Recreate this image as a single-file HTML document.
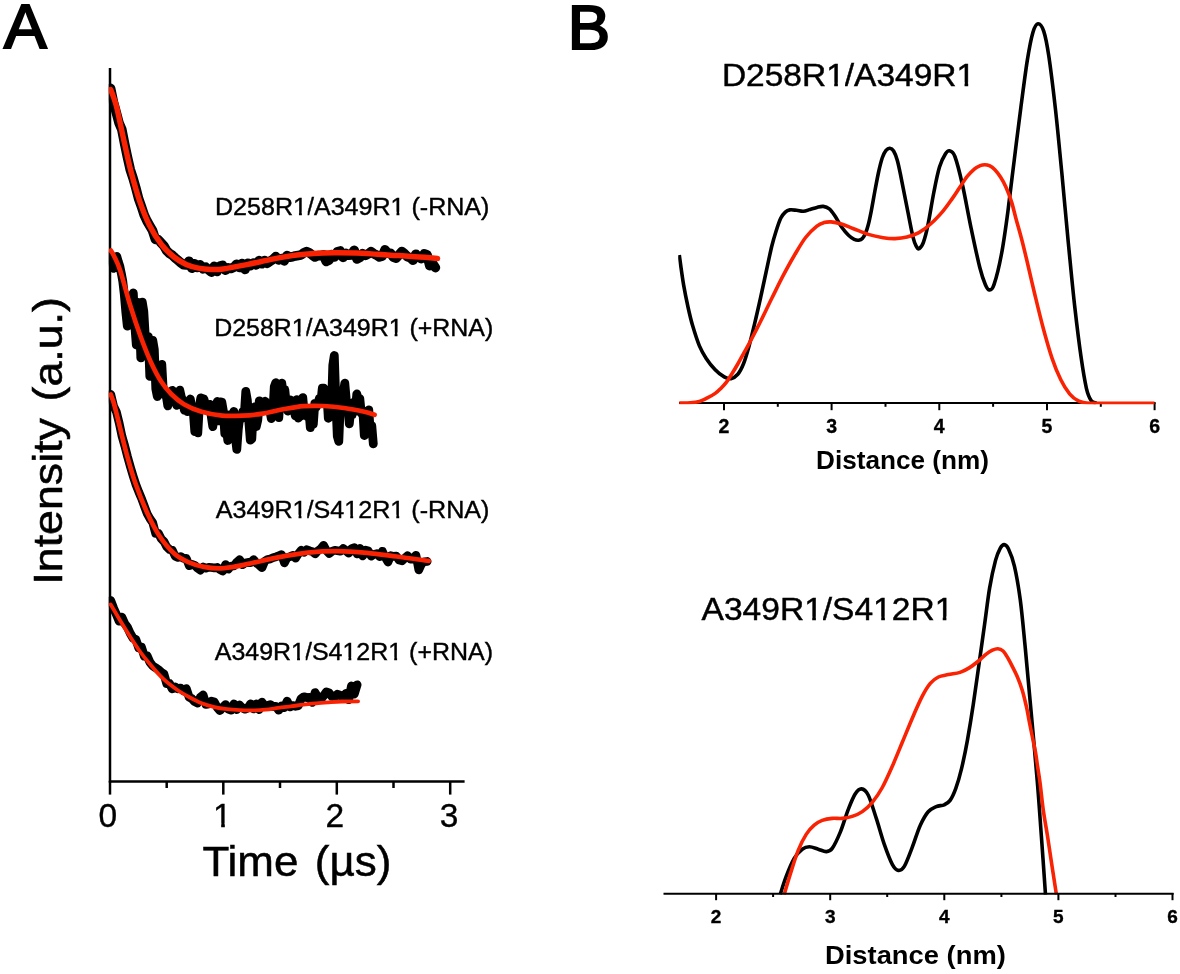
<!DOCTYPE html>
<html><head><meta charset="utf-8"><title>Figure</title>
<style>
html,body{margin:0;padding:0;background:#fff;}
body{width:1180px;height:974px;overflow:hidden;font-family:"Liberation Sans",sans-serif;}
svg{display:block;will-change:transform;}
</style></head><body>
<svg width="1180" height="974" viewBox="0 0 1180 974">
<rect width="1180" height="974" fill="#fff"/>
<g stroke="#000" stroke-width="2.5" fill="none" stroke-linecap="butt">
<path d="M110 68V782.5"/>
<path d="M108.9 781.4H464.6"/>
<path d="M110 781V794.6"/>
<path d="M223.3 781V794.6"/>
<path d="M336.8 781V794.6"/>
<path d="M450.2 781V794.6"/>
<path d="M166.7 781V788"/>
<path d="M280 781V788"/>
<path d="M393.5 781V788"/>
</g>
<clipPath id="ca"><rect x="108.8" y="60" width="400" height="721"/></clipPath>
<g clip-path="url(#ca)">
<path d="M110.6 88.4L113.4 102L116.2 112.2L119 122.9L121.8 129.4L124.6 143.6L127.4 157L130.2 169.4L133 178L135.8 187.8L138.6 198.6L141.4 206.5L144.2 214.9L147 221L149.8 225.9L152.6 230.7L155.4 239.4L158.2 239.6L161 242.7L163.8 245.7L166.6 250.6L169.4 253.4L172.2 255.1L175 257.8L177.8 260.2L180.6 262.6L183.4 264.7L186.2 264.9L189 261.2L191.8 268.2L194.6 263.8L197.4 267.5L200.2 264.9L203 268.8L205.8 267.2L208.6 269.8L211.4 272.2L214.2 266.4L217 271.5L219.8 266.1L222.6 265.3L225.4 270.2L228.2 267.9L231 268.5L233.8 267.4L236.6 264.2L239.4 267.4L242.2 263.6L245 269.4L247.8 263.2L250.6 265.5L253.4 263.2L256.2 264.9L259 260.6L261.8 263.8L264.6 260.5L267.4 263.2L270.2 261.1L273 259.4L275.8 256.6L278.6 259.8L281.4 258.5L284.2 260.9L287 255.5L289.8 257.3L292.6 256.8L295.4 255.9L298.2 255.4L301 255L303.8 252.9L306.6 251.6L309.4 252.9L312.2 255L315 257L317.8 255.6L320.6 255.6L323.4 254.8L326.2 261.5L329 260.2L331.8 254.6L334.6 257L337.4 251.9L340.2 251L343 257.4L345.8 253.4L348.6 255.2L351.4 255L354.2 250.3L357 258.9L359.8 257.5L362.6 253.8L365.4 255.3L368.2 254L371 251.7L373.8 253.7L376.6 255.1L379.4 257L382.2 256.2L385 249.8L387.8 253.1L390.6 253.3L393.4 257.2L396.2 258.1L399 254.9L401.8 251.5L404.6 253.8L407.4 256.7L410.2 257.6L413 260.2L415.8 254.2L418.6 256.8L421.4 258.6L424.2 253.9L427 254.8L429.8 265.7L432.6 263.5L435.4 267.6" fill="none" stroke="#000" stroke-width="9.6" stroke-linejoin="round" stroke-linecap="round"/>
<path d="M110.6 89.5C111.1 90.8 112.4 93.7 113.5 97C114.6 100.3 115.4 101.5 117.2 109.3C119 117.1 122.3 133.4 124.6 143.7C126.9 153.9 128.3 161.4 130.8 170.8C133.3 180.2 136.3 191.4 139.4 200.4C142.5 209.4 145.6 217.6 149.3 225C153 232.4 157.5 239.4 161.6 244.7C165.7 250 169.8 253.7 173.9 257C178 260.3 182.1 262.5 186.2 264.4C190.3 266.2 194.4 267.3 198.5 268.1C202.6 268.9 206.7 269.3 210.8 269.4C214.9 269.5 217 269.7 223.2 268.9C229.4 268.1 239.8 266 247.8 264.4C255.8 262.8 263.8 260.9 271.2 259.4C278.6 257.9 285.3 256.6 292.4 255.6C299.5 254.6 306.6 254 313.6 253.5C320.7 253 327.6 252.8 334.7 252.7C341.8 252.6 348.8 252.8 355.9 253.1C363 253.3 370 253.8 377.1 254.2C384.2 254.6 391.2 255.2 398.3 255.6C405.4 256.1 413 256.4 419.5 256.9C426 257.4 434.5 258.1 437.5 258.4" fill="none" stroke="#f92203" stroke-width="5.5" stroke-linecap="round" stroke-linejoin="round"/>
<path d="M110.8 255.5L112.3 262L113.8 268.4L115.3 258L116.8 256.4L118.3 261.7L119.8 266.1L121.3 273.3L122.8 281.4L124.3 294.5L125.8 311.8L127.3 326.1L128.8 324.8L130.3 306.3L131.8 295.9L133.3 293L134.8 325.5L136.3 345L137.8 302.5L139.3 311.6L140.8 357.8L142.3 302.1L143.8 311.5L145.3 337.3L146.8 344L148.3 336.5L149.8 376.3L151.3 370.5L152.8 340.4L154.3 349.5L155.8 388.8L157.3 396.5L158.8 381.6L160.3 372.5L161.8 364.3L163.3 391.4L164.8 395.2L166.3 396.2L167.8 405.9L169.3 398.4L170.8 395.7L172.3 390.3L173.8 399.3L175.3 400.3L176.8 405.4L178.3 401.7L179.8 390.2L181.3 397L182.8 400.4L184.3 410.1L185.8 403.9L187.3 411.7L188.8 408.3L190.3 399L191.8 408L193.3 412L194.8 431.7L196.3 419.6L197.8 432.9L199.3 406.6L200.8 397.9L202.3 407.7L203.8 398.8L205.3 403.8L206.8 406.3L208.3 411.1L209.8 404.4L211.3 416.5L212.8 426.6L214.3 416.4L215.8 407.8L217.3 401.5L218.8 420.9L220.3 401.8L221.8 402L223.3 410.8L224.8 433.8L226.3 427.6L227.8 440.5L229.3 414.9L230.8 416.9L232.3 418.5L233.8 411.5L235.3 436.9L236.8 449.4L238.3 429L239.8 416.4L241.3 418.8L242.8 411.5L244.3 414.7L245.8 391.4L247.3 399.9L248.8 421.1L250.3 440.2L251.8 438.9L253.3 410.5L254.8 406.7L256.3 426.5L257.8 419.9L259.3 400.8L260.8 411.2L262.3 407.2L263.8 408.9L265.3 401.2L266.8 409.7L268.3 408.7L269.8 410.3L271.3 418.6L272.8 412.7L274.3 386.6L275.8 382.7L277.3 390.6L278.8 417.6L280.3 393.9L281.8 383.2L283.3 394.8L284.8 389.6L286.3 404.3L287.8 411.1L289.3 407.3L290.8 400L292.3 404.4L293.8 408.2L295.3 415.9L296.8 399.6L298.3 418.1L299.8 416.4L301.3 415.8L302.8 397.7L304.3 414.5L305.8 414.6L307.3 416.6L308.8 408.8L310.3 427.7L311.8 421.3L313.3 424.4L314.8 403.3L316.3 407.1L317.8 403.4L319.3 398.5L320.8 402.7L322.3 388.1L323.8 388.2L325.3 393.6L326.8 392.4L328.3 418.3L329.8 416.9L331.3 412.8L332.8 365.2L334.3 355.5L335.8 400.5L337.3 436.3L338.8 441.4L340.3 404.4L341.8 405.3L343.3 392.9L344.8 383.2L346.3 400.3L347.8 405.3L349.3 423.8L350.8 409.4L352.3 414.7L353.8 402.1L355.3 411L356.8 394L358.3 399.3L359.8 398.4L361.3 413.4L362.8 410.4L364.3 435.5L365.8 421.2L367.3 424.5L368.8 410L370.3 432.1L371.8 425.9L373.3 443.8" fill="none" stroke="#000" stroke-width="8.8" stroke-linejoin="round" stroke-linecap="round"/>
<path d="M110.8 250.5C111.3 251.4 112.4 252.6 114 256C115.6 259.4 117.5 262.3 120.3 270.7C123 279.1 127.1 295.3 130.5 306.3C133.9 317.3 137.3 327.5 140.7 336.8C144.1 346.1 147.5 354.8 150.9 362.2C154.3 369.6 157.6 376 161 381.3C164.4 386.6 167.4 390.2 171.2 394C175 397.8 178.8 401.2 183.9 404.2C189 407.2 195.3 409.9 201.7 411.8C208 413.7 215.2 415 222 415.6C228.8 416.2 235.6 415.9 242.4 415.6C249.2 415.3 255.9 414.7 262.7 413.6C269.5 412.6 276.3 410.5 283.1 409.3C289.9 408.1 296.6 406.8 303.4 406.2C310.2 405.6 316.9 405.7 323.7 406C330.5 406.3 337.3 407 344.1 408C350.9 409 359.3 410.7 364.4 411.8C369.5 412.9 372.9 414.3 374.6 414.8" fill="none" stroke="#f92203" stroke-width="4.7" stroke-linecap="round" stroke-linejoin="round"/>
<path d="M110.8 394.3L113.6 406L116.4 411.8L119.2 423.1L122 436.3L124.8 446L127.6 456.9L130.4 466.8L133.2 476.2L136 484.9L138.8 492L141.6 498.6L144.4 506.3L147.2 513.7L150 518.8L152.8 522.8L155.6 533.5L158.4 533.3L161.2 538.8L164 541.6L166.8 546.9L169.6 549.5L172.4 550.2L175.2 556.3L178 557.5L180.8 556.5L183.6 558.5L186.4 558.4L189.2 565.8L192 564.4L194.8 565.3L197.6 568.3L200.4 570.2L203.2 567L206 568.2L208.8 567.2L211.6 567.5L214.4 568L217.2 567.4L220 569.7L222.8 571.1L225.6 564.5L228.4 569.2L231.2 566.1L234 566L236.8 562.1L239.6 559.6L242.4 564.8L245.2 563L248 562.4L250.8 562.7L253.6 559.6L256.4 563L259.2 565.2L262 567.7L264.8 561.1L267.6 559.4L270.4 558.9L273.2 557.6L276 556.8L278.8 555.7L281.6 554.6L284.4 562.9L287.2 557.6L290 556.7L292.8 555.3L295.6 558.1L298.4 553.7L301.2 550.3L304 552.4L306.8 549.6L309.6 550.8L312.4 551.6L315.2 553.8L318 550.7L320.8 548.8L323.6 545.3L326.4 550.5L329.2 553.5L332 551.3L334.8 550.3L337.6 550.8L340.4 551.3L343.2 548.5L346 550.7L348.8 553.2L351.6 548.6L354.4 547.7L357.2 554L360 548.4L362.8 556L365.6 550.2L368.4 551L371.2 556.2L374 554.3L376.8 553.6L379.6 556.7L382.4 551.2L385.2 557.4L388 562.1L390.8 555.7L393.6 556.4L396.4 556.1L399.2 560.2L402 560.9L404.8 558.2L407.6 555.6L410.4 559.2L413.2 558.9L416 555.2L418.8 570L421.6 563.7L424.4 561.8L427.2 561.4" fill="none" stroke="#000" stroke-width="8.6" stroke-linejoin="round" stroke-linecap="round"/>
<path d="M110.8 394.5C111.2 395.8 112.3 398 113.5 402C114.7 406 115.6 409.9 117.8 418.6C120 427.3 123.7 443.3 126.7 454.2C129.7 465.1 132.1 473.9 135.6 483.8C139.1 493.7 143.6 504.9 147.5 513.5C151.4 522.1 154.9 529 159.3 535.7C163.8 542.4 169.2 549 174.2 553.5C179.1 558 184.1 560.2 189 562.4C193.9 564.6 198.9 565.9 203.8 566.9C208.8 567.9 213.8 568.4 218.7 568.4C223.6 568.4 228.6 567.6 233.5 566.9C238.4 566.1 240.9 565.5 248.3 563.9C255.7 562.3 268.1 559.3 278 557.4C287.9 555.5 297.8 553.6 307.7 552.6C317.6 551.6 327.4 551.2 337.3 551.2C347.2 551.2 357.1 552 367 552.9C376.9 553.8 386.3 555.2 396.6 556.5C406.9 557.8 423.4 560.2 428.8 560.9" fill="none" stroke="#f92203" stroke-width="4.7" stroke-linecap="round" stroke-linejoin="round"/>
<path d="M110.7 600.5L113.5 607.9L116.3 614.3L119.1 621.1L121.9 617.2L124.7 623.5L127.5 627.4L130.3 633.5L133.1 638.3L135.9 639.6L138.7 647.8L141.5 647.2L144.3 656.1L147.1 655.7L149.9 662.3L152.7 665.9L155.5 667.7L158.3 669.6L161.1 672.1L163.9 673.9L166.7 683.6L169.5 683.4L172.3 688.9L175.1 686.9L177.9 688.8L180.7 688.1L183.5 690.7L186.3 688.7L189.1 697.2L191.9 698.7L194.7 701.6L197.5 702.9L200.3 697.4L203.1 695L205.9 704.3L208.7 703.8L211.5 701.2L214.3 702L217.1 707.3L219.9 710.5L222.7 707.3L225.5 704.6L228.3 709.1L231.1 710.1L233.9 704L236.7 709.5L239.5 705L242.3 707.8L245.1 709.2L247.9 708L250.7 703.8L253.5 708.9L256.3 703.9L259.1 709.5L261.9 702.2L264.7 705.8L267.5 705.6L270.3 704.6L273.1 706.6L275.9 706.3L278.7 710.2L281.5 706.1L284.3 707.6L287.1 701.2L289.9 706.9L292.7 705.6L295.5 706.3L298.3 705.7L301.1 698.6L303.9 696.8L306.7 697.6L309.5 697.4L312.3 702.4L315.1 692.6L317.9 697.5L320.7 699.6L323.5 695.9L326.3 691.9L329.1 692.9L331.9 696.5L334.7 696.8L337.5 694.2L340.3 695.4L343.1 698.2L345.9 693.4L348.7 699.7L351.5 686L354.3 694L357.1 684.8" fill="none" stroke="#000" stroke-width="8.8" stroke-linejoin="round" stroke-linecap="round"/>
<path d="M110.7 604.5C112.3 607.2 117 615.2 120.3 620.7C123.6 626.2 127.1 631.9 130.5 637.2C133.9 642.5 137.3 647.8 140.7 652.5C144.1 657.2 147.1 660.8 150.9 665.2C154.7 669.7 159.4 675.2 163.6 679.2C167.8 683.2 172.1 686.3 176.3 689.3C180.5 692.3 184.8 694.7 189 697C193.2 699.3 197.5 701.6 201.7 703.3C205.9 705 210.2 706.1 214.4 707.1C218.6 708.1 222.9 708.7 227.1 709.2C231.3 709.7 235.6 710 239.8 710.2C244.1 710.4 248.3 710.5 252.6 710.4C256.9 710.3 261.1 710.1 265.3 709.7C269.5 709.3 273.8 708.5 278 707.9C282.2 707.3 286.5 706.9 290.7 706.4C294.9 705.9 299.2 705.1 303.4 704.6C307.6 704.1 311.9 703.7 316.1 703.3C320.3 702.9 324.6 702.6 328.8 702.3C333 702 336.6 701.7 341.5 701.5C346.4 701.3 355.3 701.3 358.1 701.3" fill="none" stroke="#f92203" stroke-width="3.8" stroke-linecap="round" stroke-linejoin="round"/>
</g>
<text x="4" y="48.2" font-family="Liberation Sans, sans-serif" font-size="63.5" font-weight="normal" text-anchor="start" fill="#000" textLength="42.6" lengthAdjust="spacingAndGlyphs" stroke="#000" stroke-width="2.2" stroke-linejoin="miter">A</text>
<text x="567.8" y="49.2" font-family="Liberation Sans, sans-serif" font-size="63.5" font-weight="normal" text-anchor="start" fill="#000" stroke="#000" stroke-width="2.2" stroke-linejoin="miter">B</text>
<text x="215" y="214.8" font-family="Liberation Sans, sans-serif" font-size="24.2" font-weight="normal" text-anchor="start" fill="#000" textLength="274.4" lengthAdjust="spacingAndGlyphs" stroke="#000" stroke-width="0.4">D258R1/A349R1 (-RNA)</text>
<text x="214.2" y="335.6" font-family="Liberation Sans, sans-serif" font-size="24.2" font-weight="normal" text-anchor="start" fill="#000" textLength="279" lengthAdjust="spacingAndGlyphs" stroke="#000" stroke-width="0.4">D258R1/A349R1 (+RNA)</text>
<text x="215.8" y="517.8" font-family="Liberation Sans, sans-serif" font-size="24.2" font-weight="normal" text-anchor="start" fill="#000" textLength="273.6" lengthAdjust="spacingAndGlyphs" stroke="#000" stroke-width="0.4">A349R1/S412R1 (-RNA)</text>
<text x="214.8" y="660.4" font-family="Liberation Sans, sans-serif" font-size="24.2" font-weight="normal" text-anchor="start" fill="#000" textLength="278.2" lengthAdjust="spacingAndGlyphs" stroke="#000" stroke-width="0.4">A349R1/S412R1 (+RNA)</text>
<text x="107.8" y="826.9" font-family="Liberation Sans, sans-serif" font-size="33.5" font-weight="normal" text-anchor="middle" fill="#000" stroke="#000" stroke-width="0.35">0</text>
<text x="222.4" y="826.9" font-family="Liberation Sans, sans-serif" font-size="33.5" font-weight="normal" text-anchor="middle" fill="#000" stroke="#000" stroke-width="0.35">1</text>
<text x="334.9" y="826.9" font-family="Liberation Sans, sans-serif" font-size="33.5" font-weight="normal" text-anchor="middle" fill="#000" stroke="#000" stroke-width="0.35">2</text>
<text x="449" y="826.9" font-family="Liberation Sans, sans-serif" font-size="33.5" font-weight="normal" text-anchor="middle" fill="#000" stroke="#000" stroke-width="0.35">3</text>
<text x="202.4" y="875.8" font-family="Liberation Sans, sans-serif" font-size="41.6" font-weight="normal" text-anchor="start" fill="#000" textLength="189" lengthAdjust="spacingAndGlyphs" stroke="#000" stroke-width="0.5" word-spacing="4">Time (µs)</text>
<g transform="translate(61.7 584.6) rotate(-90)">
<text x="0" y="0" font-family="Liberation Sans, sans-serif" font-size="41.4" font-weight="normal" text-anchor="start" fill="#000" textLength="287.5" lengthAdjust="spacingAndGlyphs" stroke="#000" stroke-width="0.55" word-spacing="4">Intensity (a.u.)</text>
</g>
<g stroke="#000" stroke-width="2" fill="none">
<path d="M679 403.1H1155.5"/>
<path d="M724 402.5V410.2"/>
<path d="M831.6 402.5V410.2"/>
<path d="M939.3 402.5V410.2"/>
<path d="M1047 402.5V410.2"/>
<path d="M1154.6 402.5V410.2"/>
<path d="M777.8 402.5V406.8"/>
<path d="M885.5 402.5V406.8"/>
<path d="M993.1 402.5V406.8"/>
<path d="M1100.8 402.5V406.8"/>
</g>
<clipPath id="ct"><rect x="678.2" y="0" width="480" height="404.15"/></clipPath>
<g clip-path="url(#ct)">
<path d="M679.3 255C680 260 682.1 276.1 683.6 284.9C685.1 293.6 686.6 300.7 688.1 307.5C689.6 314.3 690.7 319.2 692.6 325.6C694.5 332 697.1 340.4 699.4 345.9C701.7 351.4 703.6 354.4 706.2 358.4C708.8 362.4 712.2 366.6 715.2 369.7C718.2 372.8 721.6 375.4 724.2 376.9C726.8 378.4 728.7 379.1 731 378.7C733.3 378.2 735.7 376.6 737.8 374.2C739.9 371.8 741.5 368.7 743.4 364C745.3 359.3 747.2 352.7 749.1 345.9C751 339.1 752.8 331.2 754.7 323.3C756.6 315.4 758.5 307 760.4 298.5C762.3 290 764.1 281.2 766 272.5C767.9 263.8 770 253.5 771.7 246.5C773.4 239.5 774.7 235.4 776.2 230.7C777.7 226 779.2 221.3 780.7 218.2C782.2 215.1 783.8 213.5 785.3 212.1C786.8 210.7 787.9 210.2 789.8 209.9C791.7 209.6 794.4 210.1 796.6 210.3C798.9 210.5 801 211.5 803.3 211.3C805.5 211.2 807.8 210.1 810.1 209.4C812.4 208.8 814.7 207.9 816.9 207.4C819.1 206.9 821.1 206.2 823.2 206.4C825.3 206.6 827.3 207.2 829.3 208.8C831.3 210.4 832.9 212.9 835 216C837.1 219.1 839.5 224.1 841.8 227.3C844 230.5 846.4 233.2 848.5 235.2C850.6 237.2 852.5 238.5 854.2 239.3C855.9 240.1 857.3 240.4 858.7 240.2C860.1 240 861.5 239.4 862.6 238.2C863.8 237 864.6 235.3 865.6 233C866.6 230.7 867.5 227.9 868.4 224.3C869.3 220.7 870.1 216.8 871.2 211.3C872.3 205.8 873.6 198 874.8 191.5C876 185 877.3 178.1 878.5 172.5C879.7 166.9 881 161.7 882.2 158C883.5 154.3 884.7 152 886 150.4C887.3 148.8 888.5 148.1 889.8 148.2C891.1 148.3 892.4 149 893.6 151C894.8 153 896 155.6 897.2 160C898.5 164.4 899.5 169.7 901.1 177.6C902.7 185.5 905 197.5 907 207.4C909 217.3 911.4 230.6 913 237.1C914.6 243.6 915.5 244.8 916.5 246.7C917.5 248.6 918.1 249.3 919.2 248.6C920.4 247.9 922 246.3 923.4 242.4C924.8 238.5 926.2 233.5 927.9 225.2C929.6 216.9 931.9 202.2 933.8 192.5C935.7 182.8 937.5 173.4 939.5 167C941.5 160.6 943.8 156.5 945.5 153.8C947.2 151.1 947.9 150.4 949.5 150.8C951.1 151.2 952.7 150.7 954.9 156.5C957.1 162.3 959.9 173.5 962.6 185.5C965.3 197.5 968.3 214.9 971.2 228.6C974.1 242.3 977.4 258.1 979.8 267.5C982.2 276.9 983.8 281 985.4 284.7C987 288.4 987.9 289.9 989.3 289.9C990.7 289.9 992 290.6 994 284.7C996 278.8 999.1 266.7 1001.4 254.5C1003.7 242.3 1005.8 227.2 1007.9 211.4C1010 195.6 1012.1 176.8 1014.3 159.6C1016.4 142.3 1018.6 124.4 1020.8 107.9C1023 91.4 1025.3 73 1027.3 60.4C1029.3 47.8 1031.1 38.5 1032.9 32.4C1034.7 26.3 1036.2 23.9 1038 23.7C1039.8 23.5 1041.9 25.7 1043.7 31.1C1045.5 36.5 1046.9 43.3 1048.8 56.1C1050.7 68.9 1053.1 88.5 1055.3 107.9C1057.5 127.3 1059.6 150.3 1061.8 172.6C1064 194.9 1066 219.3 1068.2 241.6C1070.4 263.9 1072.5 286.9 1074.7 306.3C1076.9 325.7 1079.2 344.4 1081.2 358.1C1083.2 371.8 1084.8 381.2 1086.4 388.3C1088.1 395.4 1089.4 397.9 1091.1 400.4C1092.8 402.9 1095.4 402.7 1096.3 403.2" fill="none" stroke="#000" stroke-width="3.6" stroke-linejoin="round"/>
<path d="M679.3 403C681.1 403 686.9 403.1 690.3 402.8C693.6 402.5 696.6 402.2 699.4 401.4C702.2 400.6 704.7 399.2 707.3 397.9C709.9 396.6 713 395 715.2 393.4C717.5 391.8 718.9 390.3 720.8 388.4C722.7 386.5 724.6 384.6 726.5 382.1C728.4 379.6 730.2 376.5 732.1 373.5C734 370.5 735.9 367.3 737.8 364C739.7 360.7 741.5 357.2 743.4 353.8C745.3 350.4 746.3 349 749.1 343.7C751.9 338.4 756.6 329.3 760.4 321.8C764.2 314.3 767.9 306.1 771.7 298.5C775.5 290.9 779.2 283.1 783 275.9C786.8 268.7 790.5 261.9 794.3 255.5C798.1 249.1 801.8 242.4 805.6 237.5C809.4 232.6 813.8 228.7 816.9 226.2C820 223.7 821.6 223.3 824 222.6C826.4 221.9 828.2 221.7 831.1 221.9C834 222.1 837.8 222.9 841.5 224C845.2 225.1 849 227 853.5 228.7C858 230.4 863.3 232.9 868.3 234.4C873.2 235.9 878.7 237 883.2 237.7C887.7 238.4 891.1 238.7 895.1 238.6C899.1 238.5 903 238.1 907 237.1C911 236.1 914.9 234.9 918.9 232.7C922.9 230.5 926.8 227.5 930.8 223.8C934.8 220.2 939.6 215 943.2 210.8C946.8 206.6 949.6 202.3 952.4 198.4C955.2 194.5 957.3 191 959.8 187.3C962.3 183.6 964.7 179.5 967.2 176.4C969.7 173.3 972.5 170.6 974.6 168.8C976.8 167 978.4 166.4 980.1 165.7C981.8 165 983.2 164.7 984.8 164.7C986.3 164.7 987.7 164.9 989.4 165.7C991.1 166.5 993 167.8 994.9 169.7C996.8 171.6 998.6 174.2 1000.5 177.1C1002.4 180 1004.1 183.1 1006 187.3C1007.9 191.5 1009.9 196.7 1011.6 202.1C1013.3 207.5 1014.5 213.3 1016.2 219.5C1017.9 225.7 1019.8 232.1 1021.6 239C1023.4 245.9 1024.8 251.8 1027 261C1029.2 270.2 1032 282.8 1034.7 294C1037.4 305.2 1040.4 317.8 1043.3 328.5C1046.2 339.2 1049.1 349.6 1052 358.1C1054.9 366.7 1057.9 373.9 1060.8 379.8C1063.7 385.8 1066.7 390.3 1069.6 393.8C1072.5 397.3 1075 399.2 1078.4 400.8C1081.8 402.4 1084.5 402.8 1089.8 403.2C1095.1 403.6 1099.2 403.3 1110 403.3C1120.8 403.3 1147.1 403.3 1154.5 403.3" fill="none" stroke="#f92203" stroke-width="3.6" stroke-linejoin="round"/>
</g>
<text x="724" y="432.7" font-family="Liberation Sans, sans-serif" font-size="19.5" font-weight="bold" text-anchor="middle" fill="#000" stroke="#000" stroke-width="0.35">2</text>
<text x="831.6" y="432.7" font-family="Liberation Sans, sans-serif" font-size="19.5" font-weight="bold" text-anchor="middle" fill="#000" stroke="#000" stroke-width="0.35">3</text>
<text x="939.3" y="432.7" font-family="Liberation Sans, sans-serif" font-size="19.5" font-weight="bold" text-anchor="middle" fill="#000" stroke="#000" stroke-width="0.35">4</text>
<text x="1047" y="432.7" font-family="Liberation Sans, sans-serif" font-size="19.5" font-weight="bold" text-anchor="middle" fill="#000" stroke="#000" stroke-width="0.35">5</text>
<text x="1154.6" y="432.7" font-family="Liberation Sans, sans-serif" font-size="19.5" font-weight="bold" text-anchor="middle" fill="#000" stroke="#000" stroke-width="0.35">6</text>
<text x="816" y="469.4" font-family="Liberation Sans, sans-serif" font-size="25.2" font-weight="bold" text-anchor="start" fill="#000" textLength="172.9" lengthAdjust="spacingAndGlyphs" >Distance (nm)</text>
<text x="721.9" y="86" font-family="Liberation Sans, sans-serif" font-size="31.3" font-weight="normal" text-anchor="start" fill="#000" textLength="253.2" lengthAdjust="spacingAndGlyphs" stroke="#000" stroke-width="0.45">D258R1/A349R1</text>
<clipPath id="cb"><rect x="650" y="500" width="530" height="394.8"/></clipPath>
<g clip-path="url(#cb)">
<path d="M780.2 894.4C781.2 891.4 783.9 882.4 786.2 876.4C788.5 870.4 791.5 862.9 794.2 858.4C796.9 853.9 799.7 851.1 802.2 849.2C804.7 847.3 806.7 846.8 809.4 846.8C812.1 846.8 815.4 848.4 818.2 849.2C821 850 823.9 851.7 826.2 851.6C828.5 851.5 829.9 851.6 832.2 848.4C834.5 845.2 837.5 838.9 840.2 832.4C842.9 825.9 845.7 816 848.2 809.6C850.7 803.2 852.8 797.7 855 794.2C857.2 790.8 859.3 788.7 861.5 788.9C863.7 789.1 865.8 790.3 868.3 795.2C870.8 800.1 873.6 810.2 876.3 818.4C879 826.6 881.6 836.7 884.3 844.4C887 852.1 890 860.1 892.3 864.4C894.6 868.7 896.3 870.1 898.3 870.4C900.3 870.7 902 870.2 904.3 866.4C906.6 862.6 909.6 854.2 912.2 847.4C914.9 840.6 917.5 831.3 920.2 825.4C922.9 819.5 925.5 814.8 928.2 811.7C930.9 808.6 933.5 807.8 936.2 806.6C938.9 805.5 941.9 805.8 944.2 804.8C946.5 803.8 948.2 803.1 950.1 800.4C952 797.7 953.9 793.7 955.8 788.4C957.7 783.1 959.7 776.4 961.6 768.4C963.5 760.4 965.5 751.1 967.4 740.4C969.3 729.7 971.4 717 973.3 704.3C975.2 691.6 977.1 677.6 979 664.2C980.9 650.9 982.8 636.9 984.6 624.2C986.4 611.5 987.8 598.8 989.6 588.1C991.4 577.4 993.8 566.8 995.6 560.1C997.4 553.5 998.9 550.8 1000.3 548.2C1001.7 545.6 1002.9 544.5 1004.2 544.6C1005.6 544.7 1006.7 545.2 1008.4 548.8C1010.1 552.4 1012.4 557.5 1014.4 566.1C1016.4 574.7 1018.5 586.4 1020.3 600.1C1022.1 613.8 1023.5 630.2 1025.3 648.2C1027 666.2 1028.8 686.3 1030.8 708.3C1032.8 730.3 1035.4 759 1037.2 780.4C1039 801.8 1040 817.5 1041.4 836.5C1042.8 855.5 1044.8 884.9 1045.5 894.6" fill="none" stroke="#000" stroke-width="3.6" stroke-linejoin="round"/>
<path d="M784.2 894.4C785.2 891.1 787.9 881.7 790.2 874.4C792.5 867.1 795.5 857.1 798.2 850.4C800.9 843.7 803.5 838.6 806.2 834.4C808.9 830.2 811.5 827.5 814.2 825.2C816.9 822.9 819.2 821.5 822.2 820.4C825.2 819.3 828.9 818.7 832.2 818.4C835.5 818.1 838.9 818.7 842.2 818.4C845.5 818.1 848.9 817.5 852.2 816.4C855.6 815.3 858.9 814 862.3 811.6C865.6 809.2 869 806.3 872.3 802.3C875.6 798.3 879 793.5 882.3 787.5C885.6 781.5 889 773.8 892.3 766.3C895.6 758.8 899 750.3 902.3 742.3C905.6 734.3 909 725.9 912.3 718.2C915.6 710.5 919.3 702 922.3 696.2C925.3 690.4 927.6 686.6 930.3 683.4C933 680.2 935.4 678.5 938.4 677C941.4 675.5 944.8 675.4 948.4 674.6C952 673.8 956.5 673.5 960 672.4C963.5 671.3 966.1 669.8 969.2 667.9C972.3 666 975.7 663.3 978.5 661C981.3 658.7 983.9 656 986.2 654.2C988.5 652.4 990.5 651.1 992.4 650.2C994.3 649.3 996 648.6 997.8 648.7C999.6 648.8 1001.4 649.5 1003.1 651C1004.8 652.5 1006.2 655.3 1007.8 657.9C1009.3 660.5 1010.9 663.6 1012.4 666.6C1013.9 669.6 1015.3 672 1017 676C1018.7 680 1020.9 685.8 1022.4 690.8C1023.9 695.8 1025.1 701.1 1026.3 706.2C1027.5 711.3 1028.3 716.5 1029.3 721.6C1030.3 726.7 1031.4 731.9 1032.4 737C1033.4 742.1 1034.6 747.2 1035.5 752.4C1036.4 757.5 1037 762.8 1037.8 767.9C1038.6 773 1039.2 776.4 1040.1 783.3C1041 790.2 1042 800.7 1043.2 809.5C1044.4 818.3 1046 826.6 1047.5 836C1049 845.4 1050.5 856.2 1052 866C1053.5 875.8 1055.7 889.8 1056.4 894.6" fill="none" stroke="#f92203" stroke-width="3.6" stroke-linejoin="round"/>
</g>
<g stroke="#000" stroke-width="2" fill="none">
<path d="M663.5 893.8H1173.6"/>
<path d="M716.1 893V900.2"/>
<path d="M830.2 893V900.2"/>
<path d="M944.3 893V900.2"/>
<path d="M1058.4 893V900.2"/>
<path d="M1172.5 893V900.2"/>
<path d="M773.1 893V897"/>
<path d="M887.2 893V897"/>
<path d="M1001.4 893V897"/>
<path d="M1115.5 893V897"/>
</g>
<text x="716.1" y="923.3" font-family="Liberation Sans, sans-serif" font-size="19" font-weight="bold" text-anchor="middle" fill="#000" stroke="#000" stroke-width="0.35">2</text>
<text x="830.2" y="923.3" font-family="Liberation Sans, sans-serif" font-size="19" font-weight="bold" text-anchor="middle" fill="#000" stroke="#000" stroke-width="0.35">3</text>
<text x="944.3" y="923.3" font-family="Liberation Sans, sans-serif" font-size="19" font-weight="bold" text-anchor="middle" fill="#000" stroke="#000" stroke-width="0.35">4</text>
<text x="1058.4" y="923.3" font-family="Liberation Sans, sans-serif" font-size="19" font-weight="bold" text-anchor="middle" fill="#000" stroke="#000" stroke-width="0.35">5</text>
<text x="1172.5" y="923.3" font-family="Liberation Sans, sans-serif" font-size="19" font-weight="bold" text-anchor="middle" fill="#000" stroke="#000" stroke-width="0.35">6</text>
<text x="825" y="963.6" font-family="Liberation Sans, sans-serif" font-size="25.6" font-weight="bold" text-anchor="start" fill="#000" textLength="180.8" lengthAdjust="spacingAndGlyphs" >Distance (nm)</text>
<text x="701.6" y="620.2" font-family="Liberation Sans, sans-serif" font-size="32" font-weight="normal" text-anchor="start" fill="#000" textLength="251.7" lengthAdjust="spacingAndGlyphs" stroke="#000" stroke-width="0.45">A349R1/S412R1</text>
<rect x="293.31" y="211.69" width="5.65" height="4.91" fill="#fff"/><rect x="301.88" y="211.69" width="5.7" height="4.91" fill="#fff"/><rect x="390.84" y="211.69" width="5.65" height="4.91" fill="#fff"/><rect x="399.41" y="211.69" width="5.7" height="4.91" fill="#fff"/><rect x="292.03" y="332.49" width="5.62" height="4.91" fill="#fff"/><rect x="300.56" y="332.49" width="5.68" height="4.91" fill="#fff"/><rect x="388.97" y="332.49" width="5.62" height="4.91" fill="#fff"/><rect x="397.49" y="332.49" width="5.68" height="4.91" fill="#fff"/><rect x="292.9" y="514.69" width="5.66" height="4.91" fill="#fff"/><rect x="301.48" y="514.69" width="5.71" height="4.91" fill="#fff"/><rect x="344.56" y="514.69" width="5.66" height="4.91" fill="#fff"/><rect x="353.14" y="514.69" width="5.71" height="4.91" fill="#fff"/><rect x="390.64" y="514.69" width="5.66" height="4.91" fill="#fff"/><rect x="399.22" y="514.69" width="5.71" height="4.91" fill="#fff"/><rect x="291.43" y="657.29" width="5.63" height="4.91" fill="#fff"/><rect x="299.97" y="657.29" width="5.69" height="4.91" fill="#fff"/><rect x="342.77" y="657.29" width="5.63" height="4.91" fill="#fff"/><rect x="351.31" y="657.29" width="5.69" height="4.91" fill="#fff"/><rect x="388.57" y="657.29" width="5.63" height="4.91" fill="#fff"/><rect x="397.11" y="657.29" width="5.69" height="4.91" fill="#fff"/><rect x="214.03" y="823.1" width="7.13" height="5.6" fill="#fff"/><rect x="224.82" y="823.1" width="7.11" height="5.6" fill="#fff"/><rect x="827.08" y="82.36" width="7.13" height="5.44" fill="#fff"/><rect x="837.87" y="82.36" width="7.11" height="5.44" fill="#fff"/><rect x="957.41" y="82.36" width="7.13" height="5.44" fill="#fff"/><rect x="968.2" y="82.36" width="7.11" height="5.44" fill="#fff"/><rect x="805.09" y="616.51" width="7.13" height="5.49" fill="#fff"/><rect x="815.89" y="616.51" width="7.12" height="5.49" fill="#fff"/><rect x="874.08" y="616.51" width="7.13" height="5.49" fill="#fff"/><rect x="884.87" y="616.51" width="7.12" height="5.49" fill="#fff"/><rect x="935.6" y="616.51" width="7.13" height="5.49" fill="#fff"/><rect x="946.4" y="616.51" width="7.12" height="5.49" fill="#fff"/></svg>
</body></html>
